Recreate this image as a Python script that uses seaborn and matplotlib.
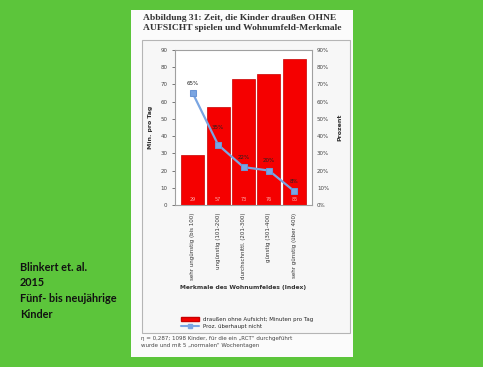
import matplotlib
matplotlib.use("Agg")
import matplotlib.pyplot as plt
import seaborn as sns
import pandas as pd
from matplotlib.patches import Rectangle, Patch
from matplotlib.lines import Line2D
from matplotlib.ticker import FuncFormatter

# data
kategorien = ["sehr ungünstig (bis 100)", "ungünstig (101-200)", "durchschnittl. (201-300)",
              "günstig (301-400)", "sehr günstig (über 400)"]
minuten = [29, 57, 73, 76, 85]
prozent = [65, 35, 22, 20, 8]

df = pd.DataFrame({"kategorie": kategorien, "minuten": minuten, "prozent": prozent})

sns.set_style("white")
plt.rcParams["font.family"] = ["DejaVu Sans"]

W, H = 483, 367
def fx(px): return px / W
def fy(py): return 1 - py / H

fig = plt.figure(figsize=(4.83, 3.67), dpi=100)
fig.patch.set_facecolor("#5cc53b")

# white scanned page and the chart frame (behind the axes)
fig.patches.append(Rectangle((fx(131), fy(357)), fx(353) - fx(131), fy(10) - fy(357),
                             transform=fig.transFigure, facecolor="#fbfbfb", edgecolor="none", zorder=-2))
fig.patches.append(Rectangle((fx(142), fy(333)), fx(350) - fx(142), fy(40) - fy(333),
                             transform=fig.transFigure, facecolor="#f7f7f7", edgecolor="#b5b5b5",
                             linewidth=0.8, zorder=-1))

ax = fig.add_axes([fx(175), fy(205), fx(312) - fx(175), fy(50) - fy(205)])
ax.set_facecolor("white")
sns.barplot(data=df, x="kategorie", y="minuten", color="#f50000", saturation=1, width=0.9,
            edgecolor="#c80000", linewidth=0.5, ax=ax)
ax.set_ylim(0, 90)
ax.set_yticks(range(0, 91, 10))
ax.set_xlabel("")
ax.set_ylabel("Min. pro Tag", fontsize=4.5, fontweight="bold", color="#333333", labelpad=5)
ax.tick_params(axis="y", labelsize=4, colors="#444444", length=2, width=0.5)
ax.tick_params(axis="x", labelsize=4, colors="#333333", length=2, width=0.5, rotation=90)
for s in ax.spines.values():
    s.set_color("#a0a0a0")
    s.set_linewidth(0.8)

for patch, v in zip(ax.patches, minuten):
    ax.text(patch.get_x() + patch.get_width() / 2, 2, str(v), ha="center", va="bottom",
            fontsize=3.5, color="#ffb0b0")

ax2 = ax.twinx()
sns.lineplot(data=df, x="kategorie", y="prozent", ax=ax2, color="#7aa5e2", marker="s",
             markersize=5, markeredgecolor="#6a95d5", linewidth=1.6, zorder=3)
ax2.set_ylim(0, 90)
ax2.set_yticks(range(0, 91, 10))
ax2.yaxis.set_major_formatter(FuncFormatter(lambda v, p: f"{int(v)}%"))
ax2.set_ylabel("Prozent", fontsize=4.5, fontweight="bold", color="#333333", labelpad=6)
ax2.tick_params(axis="y", labelsize=4, colors="#444444", length=0)
for s in ax2.spines.values():
    s.set_visible(False)

for i, p in enumerate(prozent):
    off = 11 if i == 1 else 6
    ax2.annotate(f"{p}%", (i, p), xytext=(0, off), textcoords="offset points",
                 ha="center", fontsize=4, color="#222222")

fig.text(fx(243), fy(288), "Merkmale des Wohnumfeldes (Index)", ha="center", va="center",
         fontsize=4.3, fontweight="bold", color="#333333")

handles = [Patch(facecolor="#f50000", edgecolor="#c80000"),
           Line2D([], [], color="#7aa5e2", marker="s", markersize=3, linewidth=1.5)]
fig.legend(handles, ["draußen ohne Aufsicht; Minuten pro Tag", "Proz. überhaupt nicht"],
           loc="upper left", bbox_to_anchor=(fx(176), fy(312)), frameon=False,
           fontsize=4, handlelength=3.2, handleheight=0.6, labelspacing=0.4)

fig.text(fx(141), fy(336),
         "η = 0,287; 1098 Kinder, für die ein „RCT“ durchgeführt\nwurde und mit 5 „normalen“ Wochentagen",
         ha="left", va="top", fontsize=4, color="#444444", linespacing=1.4)

fig.text(fx(143), fy(14),
         "Abbildung 31: Zeit, die Kinder draußen OHNE\nAUFSICHT spielen und Wohnumfeld-Merkmale",
         ha="left", va="top", fontsize=6.8, fontweight="bold", color="#333333",
         family=["Liberation Serif", "DejaVu Serif"], linespacing=1.3)

fig.text(fx(20), fy(262), "Blinkert et. al.\n2015\nFünf- bis neujährige\nKinder",
         ha="left", va="top", fontsize=7.8, fontweight="bold", color="#111111",
         family=["Lato", "DejaVu Sans"], linespacing=1.5)

fig.savefig("out.png", dpi=100, facecolor=fig.get_facecolor())
